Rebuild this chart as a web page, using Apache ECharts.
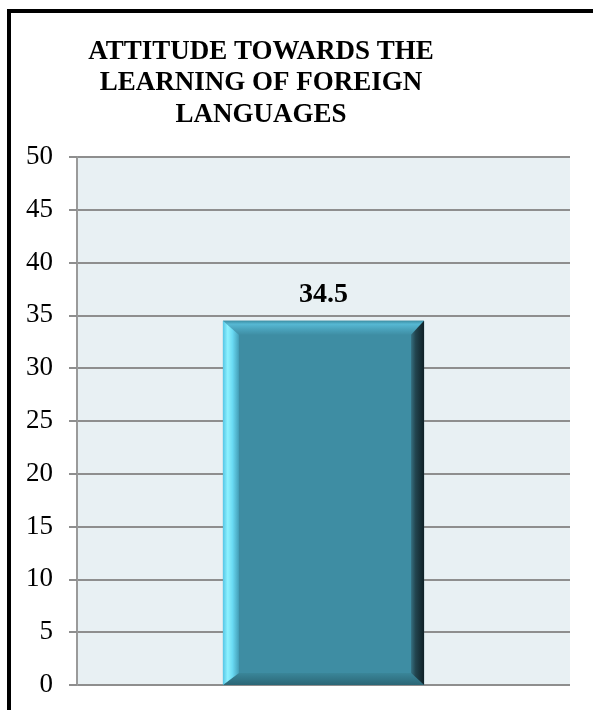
<!DOCTYPE html>
<html>
<head>
<meta charset="utf-8">
<script src="https://cdn.jsdelivr.net/npm/echarts@6/dist/echarts.min.js"></script>
<style>
html,body{margin:0;padding:0;background:#fff;width:593px;height:710px;overflow:hidden;}
#frame{position:absolute;left:7px;top:9px;width:800px;height:900px;border-left:4px solid #000;border-top:4px solid #000;}
#chart{position:absolute;left:0;top:0;width:593px;height:710px;}
</style>
</head>
<body>
<div id="frame"></div>
<div id="chart"></div>
<script>
const titleText = 'ATTITUDE TOWARDS THE\nLEARNING OF FOREIGN\nLANGUAGES';
const categories = ['Attitude'];
const values = [34.5];
const yTicks = { min: 0, max: 50, interval: 5 };

const chart = echarts.init(document.getElementById('chart'), null, {renderer: 'canvas'});
const serif = '"Liberation Serif", "Times New Roman", serif';

function lin(x2, y2, stops) {
  return {type: 'linear', x: 0, y: 0, x2: x2, y2: y2, colorStops: stops.map(s => ({offset: s[0], color: s[1]}))};
}

function renderItem(params, api) {
  const idx = api.value(0);
  const v = api.value(1);
  const p0 = api.coord([idx, 0]);
  const p1 = api.coord([idx, v]);
  const bw = api.size([1, 0])[0] * 0.408;
  const l = p0[0] - bw / 2, r = p0[0] + bw / 2, t = p1[1], b = p0[1];
  const L = 16, T = 14, R = 13, B = 12;
  return {
    type: 'group',
    children: [
      {type: 'rect', shape: {x: l, y: t, width: r - l, height: b - t}, style: {fill: '#3E8DA3'}},
      {type: 'polygon', shape: {points: [[l, t], [r, t], [r - R, t + T], [l + L, t + T]]},
        style: {fill: lin(0, 1, [[0, '#3C8EA4'], [0.25, '#56B8D3'], [0.6, '#4AA3BC'], [1, '#3F8FA5']])}},
      {type: 'polygon', shape: {points: [[l, b], [l + L, b - B], [r - R, b - B], [r, b]]},
        style: {fill: lin(0, 1, [[0, '#3A8699'], [1, '#2B6676']])}},
      {type: 'polygon', shape: {points: [[l, t], [l + L, t + T], [l + L, b - B], [l, b]]},
        style: {fill: lin(1, 0, [[0, '#56C6E6'], [0.3, '#8EF2FF'], [0.6, '#6ADAF3'], [1, '#449FB8']])}},
      {type: 'polygon', shape: {points: [[r, t], [r, b], [r - R, b - B], [r - R, t + T]]},
        style: {fill: lin(1, 0, [[0, '#356F80'], [0.35, '#22444E'], [1, '#0F2026']])}},
      {type: 'text', x: (l + r) / 2, y: t - 12,
        style: {text: String(v), fill: '#000', font: 'bold 28px ' + serif, align: 'center', verticalAlign: 'bottom'}}
    ]
  };
}

chart.setOption({
  animation: false,
  title: {
    text: titleText,
    left: 256,
    top: 31,
    textAlign: 'center',
    textStyle: {fontFamily: serif, fontWeight: 'bold', fontSize: 27, lineHeight: 31.5, color: '#000'}
  },
  grid: {left: 77, top: 157, width: 493, height: 528, show: true, backgroundColor: '#E8F0F3', borderWidth: 0, containLabel: false},
  xAxis: {
    type: 'category', data: categories,
    axisLine: {show: false}, axisTick: {show: false}, axisLabel: {show: false}, splitLine: {show: false}
  },
  yAxis: {
    type: 'value', min: yTicks.min, max: yTicks.max, interval: yTicks.interval,
    axisLine: {show: true, lineStyle: {color: '#9A9A9A', width: 2}},
    axisTick: {show: true, length: 8, lineStyle: {color: '#8E8E8E', width: 2}},
    axisLabel: {margin: 24, color: '#000', fontFamily: serif, fontSize: 27},
    splitLine: {show: true, lineStyle: {color: '#8E8E8E', width: 2}}
  },
  series: [{
    type: 'custom',
    renderItem: renderItem,
    data: categories.map((c, i) => [i, values[i]]),
    encode: {x: 0, y: 1},
    z: 5
  }]
});
</script>
</body>
</html>
